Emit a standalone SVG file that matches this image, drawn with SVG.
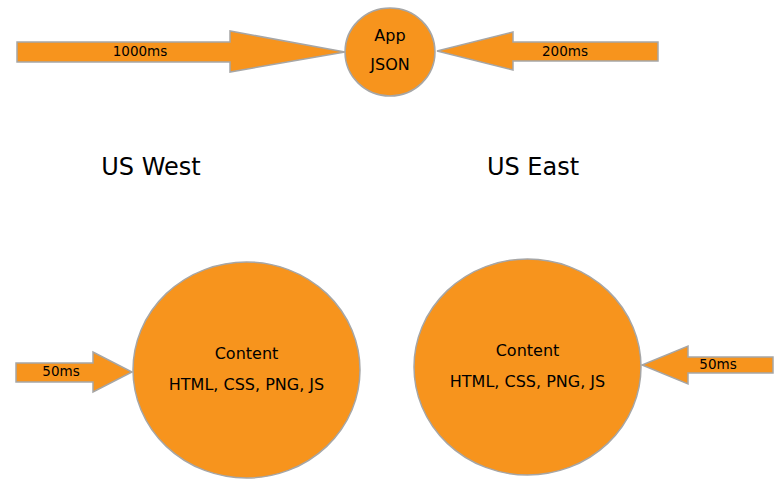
<svg xmlns="http://www.w3.org/2000/svg" width="783" height="491" viewBox="0 0 783 491">
<style>
.shape{fill:#F7941D;stroke:#A6A6A6;stroke-width:1.5}
text{font-family:"DejaVu Sans","Liberation Sans",sans-serif;fill:#000;text-anchor:middle}
.lbl{font-size:13.5px}
.node{font-size:16px}
.title{font-size:24px}
</style>
<rect width="783" height="491" fill="#fff"/>
<g id="connectors">
<g id="arrow-1000">
<polygon class="shape" points="17,42 230,42 230,31 345,52 230,72 230,62 17,62"/>
<text class="lbl" x="140" y="56">1000ms</text>
</g>
<g id="arrow-200">
<polygon class="shape" points="658,42 513,42 513,32 437,51 513,70 513,61 658,61"/>
<text class="lbl" x="565" y="56">200ms</text>
</g>
<g id="arrow-50-west">
<polygon class="shape" points="16,363 93,363 93,352 132,372 93,392 93,382 16,382"/>
<text class="lbl" x="61" y="376">50ms</text>
</g>
<g id="arrow-50-east">
<polygon class="shape" points="773,357 688,357 688,346 642,365 688,384 688,373 773,373"/>
<text class="lbl" x="718" y="369">50ms</text>
</g>
</g>
<g id="app">
<ellipse class="shape" cx="390" cy="52" rx="45" ry="44"/>
<text class="node" x="390" y="41">App</text>
<text class="node" x="390" y="70">JSON</text>
</g>
<g id="us-west-label"><text class="title" x="151" y="175">US West</text></g>
<g id="us-east-label"><text class="title" x="533" y="175">US East</text></g>
<g id="content-west">
<ellipse class="shape" cx="246.5" cy="370" rx="113.5" ry="108"/>
<text class="node" x="246.5" y="359">Content</text>
<text class="node" x="246.5" y="390">HTML, CSS, PNG, JS</text>
</g>
<g id="content-east">
<ellipse class="shape" cx="527.5" cy="367" rx="113.5" ry="108"/>
<text class="node" x="527.5" y="356">Content</text>
<text class="node" x="527.5" y="387">HTML, CSS, PNG, JS</text>
</g>
</svg>
